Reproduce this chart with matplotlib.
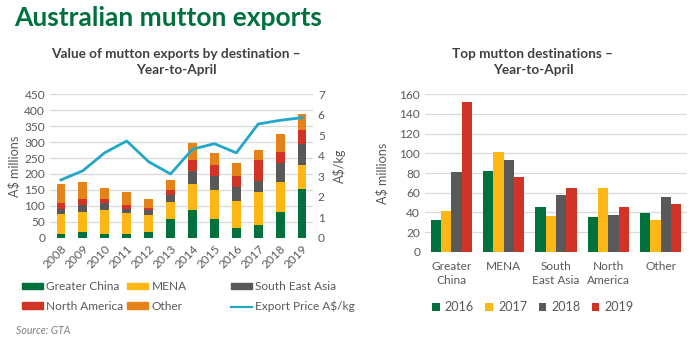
import matplotlib
matplotlib.use("Agg")
import matplotlib.pyplot as plt
from matplotlib.patches import Patch
from matplotlib.lines import Line2D
import numpy as np

plt.rcParams['font.family'] = ['Lato', 'DejaVu Sans']

# ---- data -------------------------------------------------------------
years = ['2008', '2009', '2010', '2011', '2012', '2013', '2014', '2015',
         '2016', '2017', '2018', '2019']
greater_china = [12, 17, 12, 12, 19, 58, 86, 58, 32, 41, 82, 152]
mena = [62, 63, 74, 65, 51, 54, 84, 91, 82, 101, 93, 76]
south_east_asia = [15, 22, 22, 12, 17, 21, 40, 45, 45, 37, 58, 65]
north_america = [19, 21, 13, 13, 6, 16, 34, 33, 35, 65, 37, 46]
other = [61, 53, 36, 40, 28, 31, 52, 40, 39, 32, 56, 48]
export_price = [2.82, 3.27, 4.15, 4.72, 3.71, 3.11, 4.32, 4.59, 4.14, 5.55, 5.73, 5.86]

destinations = ['Greater\nChina', 'MENA', 'South\nEast Asia', 'North\nAmerica', 'Other']
ytd_years = ['2016', '2017', '2018', '2019']
ytd_2016 = [32, 82, 45, 35, 39]
ytd_2017 = [41, 101, 36, 65, 32]
ytd_2018 = [81, 93, 58, 37, 56]
ytd_2019 = [152, 76, 65, 45, 48]

# ---- style ------------------------------------------------------------
C_GREEN = '#00703C'
C_YELLOW = '#FDB714'
C_GREY = '#595959'
C_RED = '#D13427'
C_ORANGE = '#E38319'
C_LINE = '#22A7C8'
C_TEXT = '#595959'
C_GRID = '#D9D9D9'
FS = 8.6

W, H = 700, 339
fig = plt.figure(figsize=(W / 100, H / 100), dpi=100)


def box(x0, x1, y_top, y_bot):
    return [x0 / W, 1 - y_bot / H, (x1 - x0) / W, (y_bot - y_top) / H]


def style_axis(ax):
    for s in ax.spines.values():
        s.set_visible(False)
    ax.tick_params(length=0, labelsize=FS, colors=C_TEXT)
    ax.grid(axis='y', color=C_GRID, linewidth=0.9)
    ax.set_axisbelow(True)


fig.text(14 / W, 1 - 18 / H, 'Australian mutton exports', color=C_GREEN,
         fontsize=19, fontweight='bold', va='center', ha='left')

# ---- left: stacked bars + price line ----------------------------------
ax = fig.add_axes(box(50, 313, 94.3, 237.7))
style_axis(ax)
x = np.arange(len(years))
series = [(greater_china, C_GREEN, 'Greater China'),
          (mena, C_YELLOW, 'MENA'),
          (south_east_asia, C_GREY, 'South East Asia'),
          (north_america, C_RED, 'North America'),
          (other, C_ORANGE, 'Other')]
bottom = np.zeros(len(years))
for vals, col, lab in series:
    ax.bar(x, vals, 0.4, bottom=bottom, color=col, label=lab, zorder=2)
    bottom += np.array(vals)
ax.set_xlim(-0.5, len(years) - 0.5)
ax.set_ylim(0, 450)
ax.set_yticks(np.arange(0, 451, 50))
ax.set_xticks(x)
ax.set_xticklabels(years, rotation=45, ha='right', va='top',
                   rotation_mode='anchor')
ax.tick_params(axis='x', pad=4)
ax.set_ylabel('A$ millions', fontsize=FS + 0.5, color=C_TEXT, labelpad=3)

ax2 = ax.twinx()
for s in ax2.spines.values():
    s.set_visible(False)
ax2.tick_params(length=0, labelsize=FS, colors=C_TEXT)
ax2.plot(x, export_price, color=C_LINE, linewidth=2, zorder=3)
ax2.set_ylim(0, 7)
ax2.set_yticks(range(0, 8))
ax2.set_ylabel('A$/kg', fontsize=FS + 0.5, color=C_TEXT, labelpad=6)

fig.text(176 / W, 1 - 62 / H, 'Value of mutton exports by destination –\nYear-to-April',
         ha='center', va='center', fontsize=9.8, fontweight='bold',
         color='#404040', linespacing=1.45)

# legend in three columns placed separately
leg_cols = [
    (22, [Patch(color=C_GREEN), Patch(color=C_RED)], ['Greater China', 'North America']),
    (127, [Patch(color=C_YELLOW), Patch(color=C_ORANGE)], ['MENA', 'Other']),
    (231, [Patch(color=C_GREY), Line2D([], [], color=C_LINE, lw=1.6)],
     ['South East Asia', 'Export Price A$/kg']),
]
for xpos, hs, ls in leg_cols:
    fig.legend(hs, ls, loc='upper left', bbox_to_anchor=(xpos / W, 1 - 281 / H),
               frameon=False, fontsize=FS, handlelength=1.75, handleheight=0.45,
               handletextpad=0.3, labelspacing=0.75, borderpad=0, borderaxespad=0,
               labelcolor=C_TEXT)

fig.text(16 / W, 1 - 331 / H, 'Source: GTA', fontsize=7.6, style='italic',
         color='#7F7F7F', va='center')

# ---- right: grouped bars ---------------------------------------------
bx = fig.add_axes(box(425, 687, 94.3, 251.7))
style_axis(bx)
xd = np.arange(len(destinations))
bw = 0.197
groups = [(ytd_2016, C_GREEN), (ytd_2017, C_YELLOW), (ytd_2018, C_GREY), (ytd_2019, C_RED)]
for i, ((vals, col), lab) in enumerate(zip(groups, ytd_years)):
    bx.bar(xd + (i - 1.5) * bw, vals, bw, color=col, label=lab, zorder=2)
bx.set_xlim(-0.5, len(destinations) - 0.5)
bx.set_ylim(0, 160)
bx.set_yticks(np.arange(0, 161, 20))
bx.set_xticks(xd)
bx.set_xticklabels(destinations, linespacing=1.3)
bx.tick_params(axis='x', pad=7)
bx.set_ylabel('A$ millions', fontsize=FS + 0.5, color=C_TEXT, labelpad=8)

fig.text(533 / W, 1 - 62 / H, 'Top mutton destinations –\nYear-to-April',
         ha='center', va='center', fontsize=9.8, fontweight='bold',
         color='#404040', linespacing=1.45)

bx.legend(loc='center', bbox_to_anchor=(533 / W, 1 - 307 / H),
          bbox_transform=fig.transFigure, ncol=4, frameon=False, fontsize=FS + 0.5,
          handlelength=0.6, handleheight=0.6, handletextpad=0.4, columnspacing=0.9,
          labelcolor=C_TEXT)

fig.savefig('out.png', dpi=100)
